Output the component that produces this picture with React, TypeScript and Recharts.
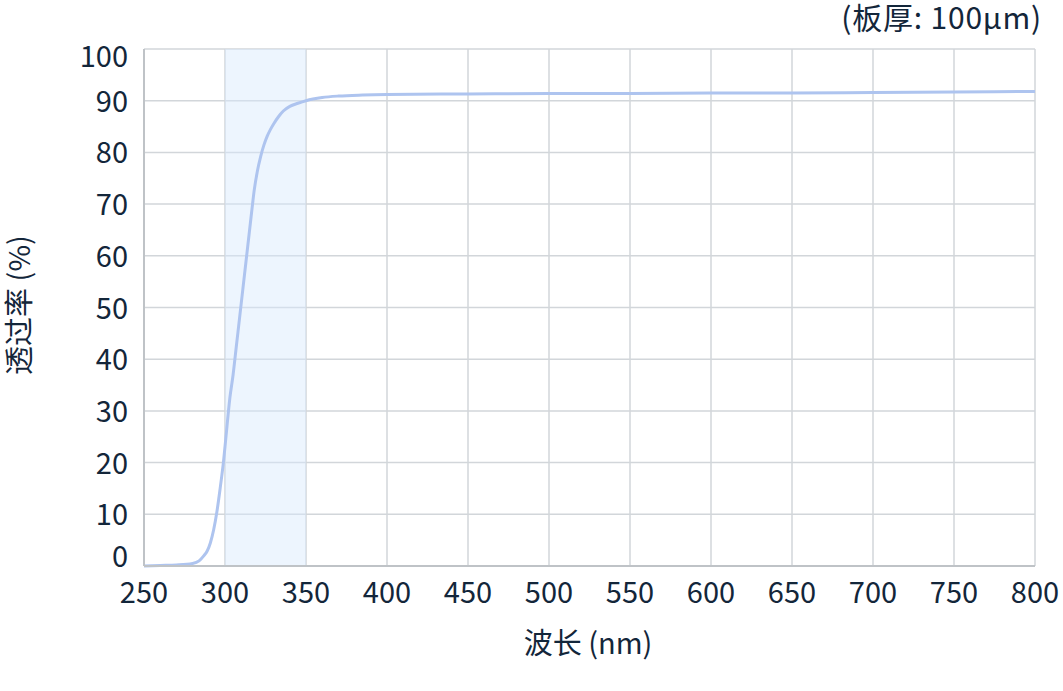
import { LineChart, Line, XAxis, YAxis, CartesianGrid, ReferenceArea } from 'recharts';

// wavelength (nm) and transmittance (%)
const wavelengths = [
  250, 260, 270, 280, 284, 287, 289, 291, 293, 295, 297, 299, 301, 303, 305, 307, 309, 311, 313, 315,
  317, 318, 320, 322, 324, 326, 328, 330, 333, 336, 340, 345, 350, 360, 370, 385, 400, 450, 500, 550,
  600, 650, 700, 750, 800,
];
const transmittance = [
  0, 0.1, 0.2, 0.5, 1.0, 2.0, 2.9, 4.5, 7, 10.5, 15, 20, 26.3, 32.5, 37, 42.5, 48, 53.5, 59, 64.5,
  70, 72.6, 76.4, 79.2, 81.4, 83.1, 84.4, 85.5, 86.9, 88.0, 88.9, 89.5, 90, 90.6, 90.9, 91.1, 91.2,
  91.3, 91.4, 91.4, 91.5, 91.5, 91.6, 91.7, 91.8,
];
const xTicks = [250, 300, 350, 400, 450, 500, 550, 600, 650, 700, 750, 800];
const yTicks = [0, 10, 20, 30, 40, 50, 60, 70, 80, 90, 100];
const bandRange = [300, 350];

const data = wavelengths.map((w, i) => ({ nm: w, t: transmittance[i] }));

const FONT = '"Noto Sans CJK SC", "Noto Sans", sans-serif';
const TEXT = '#13263a';
const FS = 29;

function YTick({ x, y, payload }: any) {
  // edge labels are nudged inside the plot like the original
  let dy = 11;
  if (payload.value === 0) dy = 1;
  if (payload.value === 100) dy = 18;
  return (
    <text x={x} y={y} dy={dy} textAnchor="end" fill={TEXT} fontSize={FS} fontFamily={FONT}>
      {payload.value}
    </text>
  );
}

function XTick({ x, y, payload }: any) {
  return (
    <text x={x} y={y} dy={35} textAnchor="middle" fill={TEXT} fontSize={FS} fontFamily={FONT}>
      {payload.value}
    </text>
  );
}

export default function App() {
  return (
    <div style={{ position: 'absolute', left: 0, top: 0, width: 1063, height: 691, background: '#fff', fontFamily: FONT }}>
      <LineChart width={1063} height={691} data={data} margin={{ top: 49, right: 28, left: 0, bottom: 0 }}>
        <ReferenceArea
          x1={bandRange[0]}
          x2={bandRange[1]}
          y1={0}
          y2={100}
          fill="#d6e8fc"
          fillOpacity={0.45}
          stroke="none"
        />
        <CartesianGrid stroke="#d2d6da" strokeWidth={1.5} />
        <XAxis
          dataKey="nm"
          type="number"
          domain={[250, 800]}
          ticks={xTicks}
          height={125}
          tick={<XTick />}
          tickLine={false}
          tickSize={0}
          axisLine={{ stroke: '#bfc3c7', strokeWidth: 2 }}
        />
        <YAxis
          type="number"
          domain={[0, 100]}
          ticks={yTicks}
          width={144}
          tick={<YTick />}
          tickLine={false}
          tickSize={0}
          tickMargin={16}
          axisLine={{ stroke: '#bfc3c7', strokeWidth: 2 }}
        />
        <Line
          dataKey="t"
          type="monotone"
          stroke="#aec4ef"
          strokeWidth={3}
          dot={false}
          isAnimationActive={false}
        />
        <text x={1042} y={29} textAnchor="end" fill={TEXT} fontSize={30} fontFamily={FONT} letterSpacing={0.8}>
          (板厚: 100μm)
        </text>
        <text x={588} y={654} textAnchor="middle" fill={TEXT} fontSize={FS} fontFamily={FONT}>
          波长 (nm)
        </text>
        <text
          x={30}
          y={305}
          textAnchor="middle"
          fill={TEXT}
          fontSize={FS}
          fontFamily={FONT}
          transform="rotate(-90 30 305)"
        >
          透过率 (%)
        </text>
      </LineChart>
    </div>
  );
}
